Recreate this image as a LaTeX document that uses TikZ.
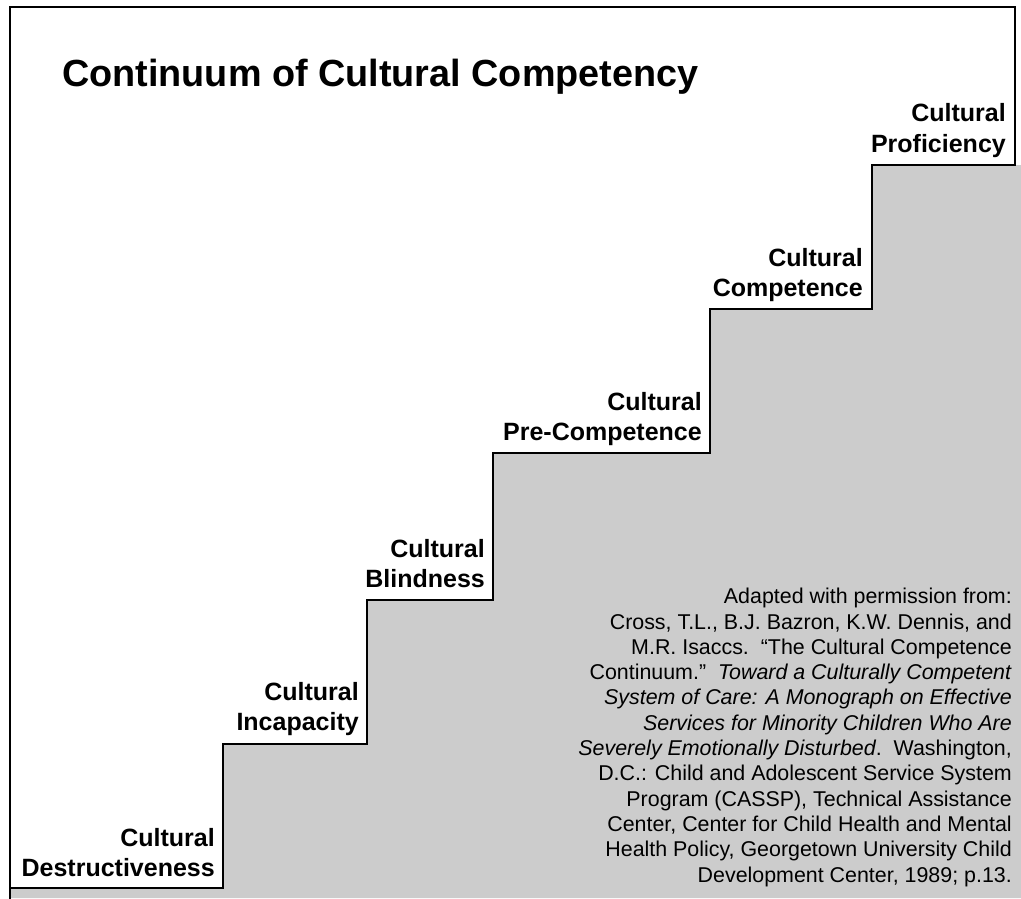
\documentclass[tikz,border=0pt]{standalone}
\usepackage{fontspec}
\setmainfont{Liberation Sans}
\definecolor{stairgray}{HTML}{CCCCCC}
\tikzset{
  steplabel/.style={inner sep=0pt, anchor=base east, font=\fontsize{25}{30}\selectfont\bfseries},
  stairline/.style={line width=2.2pt, line join=miter, line cap=rect},
  citation/.style={inner sep=0pt, anchor=base east, align=right, font=\fontsize{21.4}{25.3}\selectfont}
}
\begin{document}
\begin{tikzpicture}[x=1pt,y=-1pt]
\useasboundingbox (0,0) rectangle (1021,898);
% gray region under the staircase
\fill[stairgray] (10,888) -- (223,888) -- (223,744) -- (367,744) -- (367,600) -- (493,600)
  -- (493,453) -- (710,453) -- (710,309) -- (872,309) -- (872,165) -- (1021,165)
  -- (1021,898) -- (10,898) -- cycle;
% frame and staircase outline
\draw[stairline] (10,898) -- (10,7) -- (1015,7) -- (1015,165) -- (872,165) -- (872,309)
  -- (710,309) -- (710,453) -- (493,453) -- (493,600) -- (367,600) -- (367,744)
  -- (223,744) -- (223,888) -- (10,888);
% title
\node[inner sep=0pt, anchor=base west, font=\fontsize{37.8}{42}\selectfont\bfseries] (title) at (62,86) {Continuum of Cultural Competency};
% step labels
\node[steplabel] (d1) at (215,846) {Cultural};
\node[steplabel] (d2) at (215,876) {Destructiveness};
\node[steplabel] (i1) at (359,700) {Cultural};
\node[steplabel] (i2) at (359,730) {Incapacity};
\node[steplabel] (b1) at (485,557) {Cultural};
\node[steplabel] (b2) at (485,587) {Blindness};
\node[steplabel] (p1) at (702,410) {Cultural};
\node[steplabel] (p2) at (702,440) {Pre-Competence};
\node[steplabel] (c1) at (863,266) {Cultural};
\node[steplabel] (c2) at (863,296) {Competence};
\node[steplabel] (f1) at (1006,121) {Cultural};
\node[steplabel] (f2) at (1006,152) {Proficiency};
% citation
\node[citation] (cite) at (1012,882) {Adapted with permission from:\\
Cross, T.L., B.J. Bazron, K.W. Dennis, and\\
M.R. Isaccs.\ \ “The Cultural Competence\\
Continuum.”\ \ \textit{Toward a Culturally Competent}\\
\textit{System of Care: A Monograph on Effective}\\
\textit{Services for Minority Children Who Are}\\
\textit{Severely Emotionally Disturbed}.\ \ Washington,\\
D.C.: Child and Adolescent Service System\\
Program (CASSP), Technical Assistance\\
Center, Center for Child Health and Mental\\
Health Policy, Georgetown University Child\\
Development Center, 1989; p.13.};
\end{tikzpicture}
\end{document}
